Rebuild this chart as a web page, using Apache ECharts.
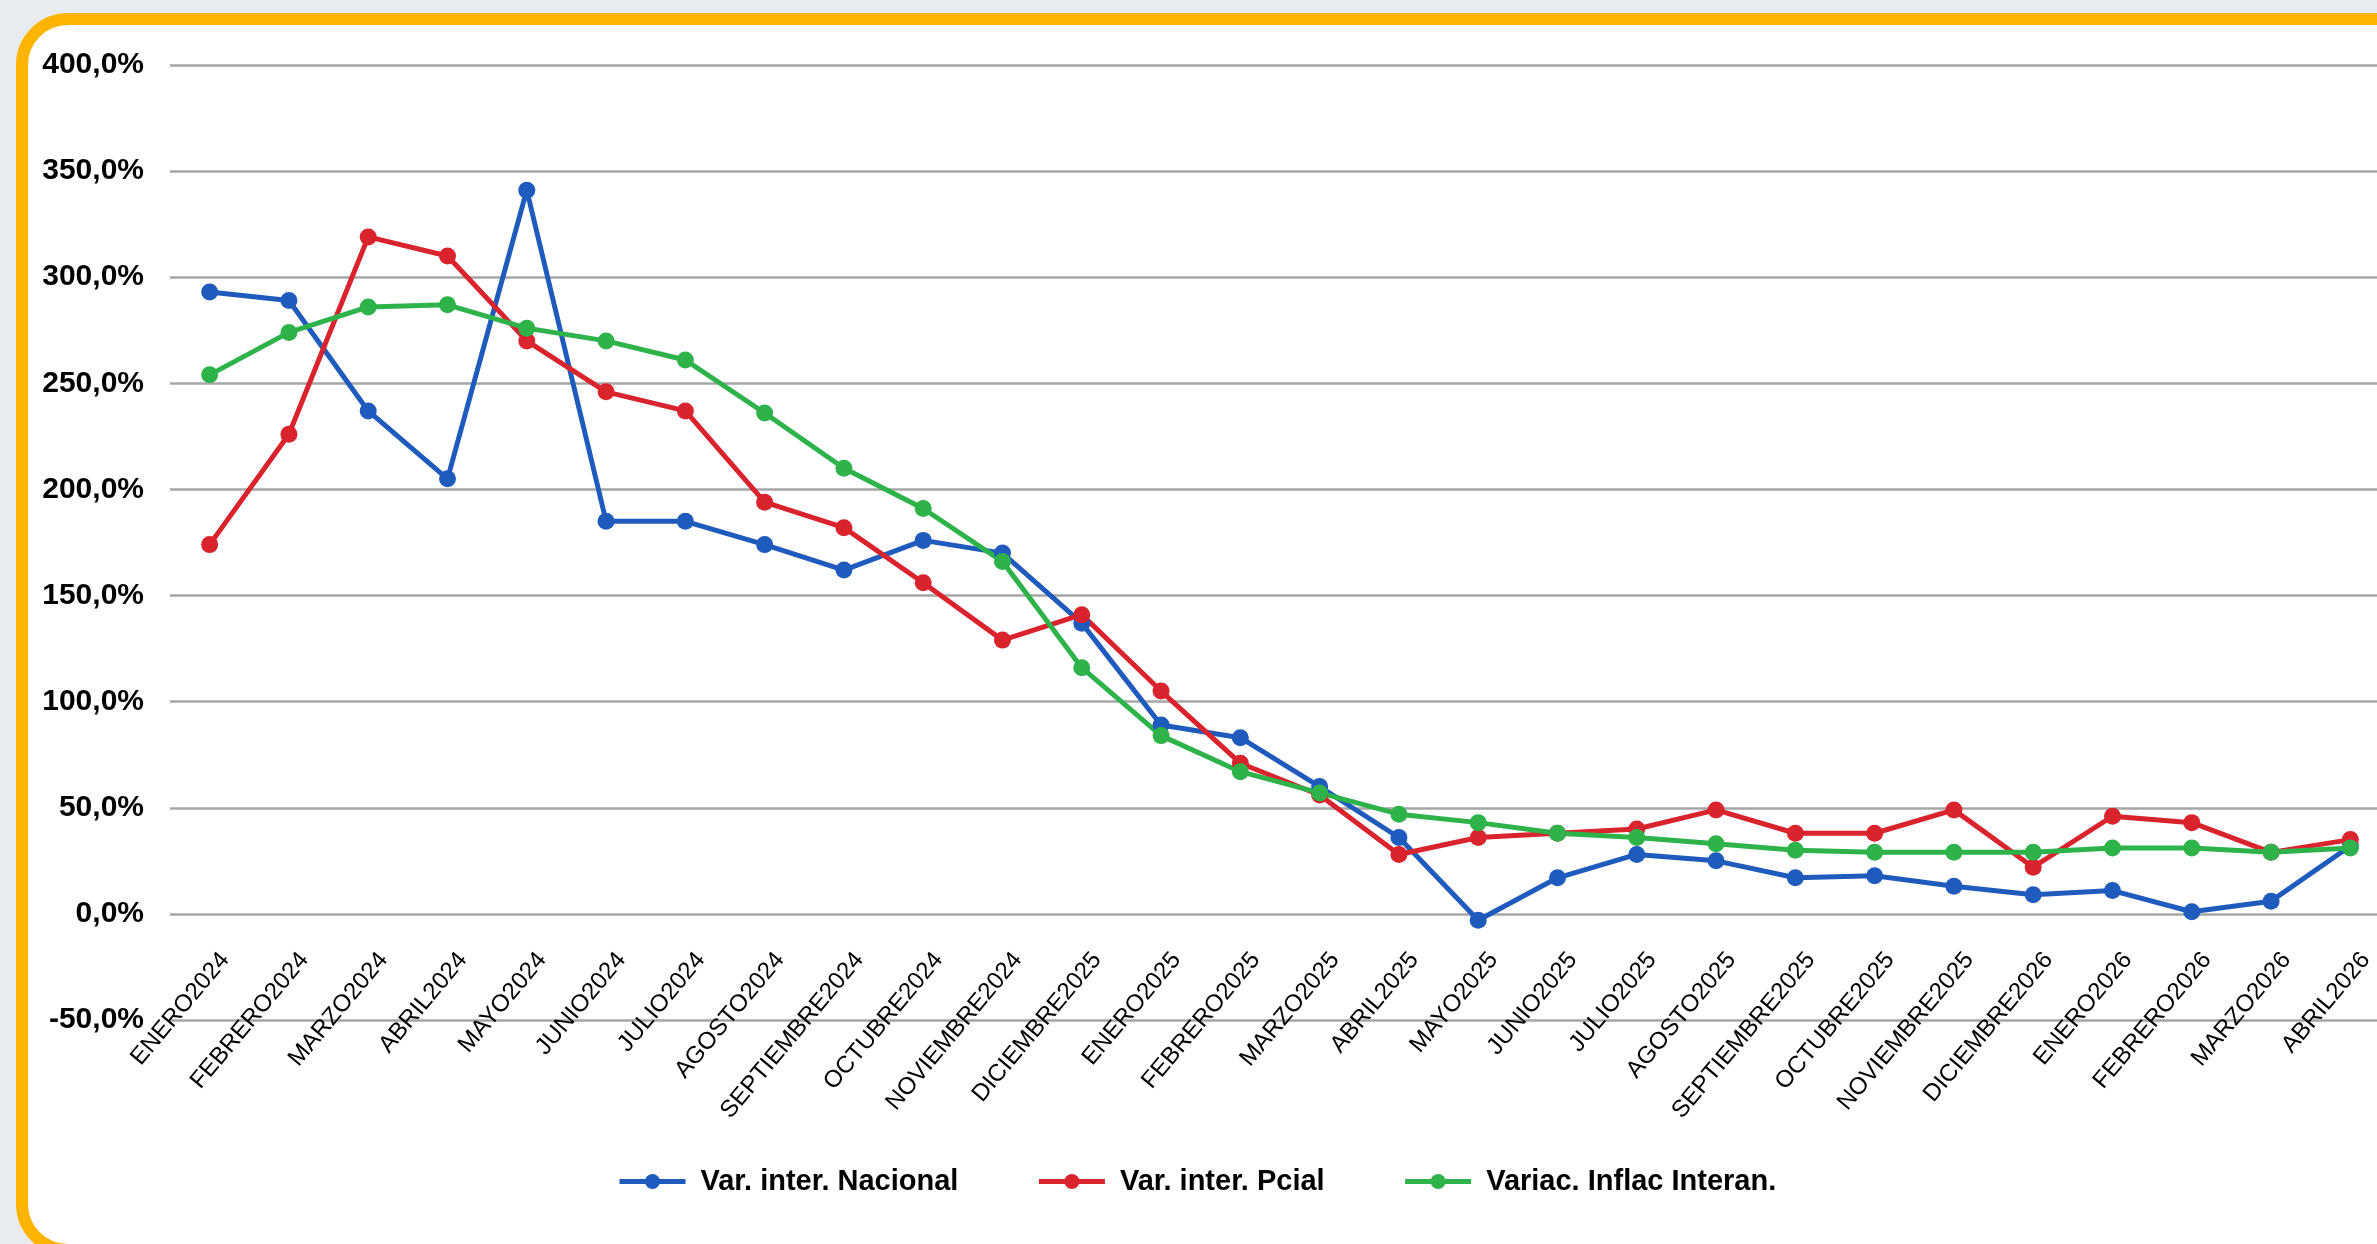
<!DOCTYPE html>
<html>
<head>
<meta charset="utf-8">
<script src="https://cdn.jsdelivr.net/npm/echarts@6/dist/echarts.min.js"></script>
<style>
  html, body { margin: 0; padding: 0; width: 2377px; height: 1244px; overflow: hidden; background: #e8ecef; }
  #card { position: absolute; left: 16px; top: 13px; width: 2420px; height: 1243px; box-sizing: border-box;
          border: 12px solid #FFB400; border-radius: 52px; background: #ffffff; }
  #chart { position: absolute; left: 0; top: 0; width: 2377px; height: 1244px; }
</style>
</head>
<body>
<div id="card"></div>
<div id="chart"></div>
<script>
const categories = ['ENERO2024','FEBRERO2024','MARZO2024','ABRIL2024','MAYO2024','JUNIO2024','JULIO2024','AGOSTO2024','SEPTIEMBRE2024','OCTUBRE2024','NOVIEMBRE2024','DICIEMBRE2025','ENERO2025','FEBRERO2025','MARZO2025','ABRIL2025','MAYO2025','JUNIO2025','JULIO2025','AGOSTO2025','SEPTIEMBRE2025','OCTUBRE2025','NOVIEMBRE2025','DICIEMBRE2026','ENERO2026','FEBRERO2026','MARZO2026','ABRIL2026'];

const nacional = [293, 289, 237, 205, 341, 185, 185, 174, 162, 176, 170, 137, 89, 83, 60, 36, -3, 17, 28, 25, 17, 18, 13, 9, 11, 1, 6, 32];
const pcial = [174, 226, 319, 310, 270, 246, 237, 194, 182, 156, 129, 141, 105, 71, 56, 28, 36, 38, 40, 49, 38, 38, 49, 22, 46, 43, 29, 35];
const variac = [254, 274, 286, 287, 276, 270, 261, 236, 210, 191, 166, 116, 84, 67, 57, 47, 43, 38, 36, 33, 30, 29, 29, 29, 31, 31, 29, 31];

const seriesNames = ['Var. inter. Nacional', 'Var. inter. Pcial', 'Variac. Inflac Interan.'];
const seriesColors = ['#1f5bbd', '#d9232d', '#2eb34b'];

const yMin = -50, yMax = 400, yStep = 50;

const FONT = '"Liberation Sans", Arial, sans-serif';

const gridTop = 65, gridBottom = 224, chartH = 1244;
const gridH = chartH - gridTop - gridBottom;
// place the category axis where the value axis is 0 (as in the reference)
const xAxisOffset = -gridH * (0 - yMin) / (yMax - yMin);

const chart = echarts.init(document.getElementById('chart'), null, { renderer: 'canvas' });

function mkSeries(name, data, color) {
  return {
    name: name,
    type: 'line',
    data: data,
    symbol: 'circle',
    symbolSize: 17,
    lineStyle: { color: color, width: 5 },
    itemStyle: { color: color },
    emphasis: { disabled: true },
    animation: false
  };
}

chart.setOption({
  backgroundColor: 'transparent',
  animation: false,
  grid: { left: 170, top: gridTop, width: 2220, bottom: gridBottom, containLabel: false, outerBoundsMode: 'none' },
  legend: {
    data: seriesNames,
    left: 612,
    top: 1162,
    itemWidth: 66,
    itemHeight: 19,
    itemGap: 78,
    lineStyle: { width: 5 },
    textStyle: { fontFamily: FONT, fontSize: 29, fontWeight: 'bold', color: '#000', padding: [0, 0, 0, 10] }
  },
  xAxis: {
    type: 'category',
    data: categories,
    boundaryGap: true,
    offset: xAxisOffset,
    axisLine: { show: false, onZero: false },
    axisTick: { show: false },
    splitLine: { show: false },
    axisLabel: {
      interval: 0,
      rotate: 50,
      margin: 29,
      verticalAlign: 'top',
      lineHeight: 40,
      fontFamily: FONT,
      fontSize: 24,
      color: '#000'
    }
  },
  yAxis: {
    type: 'value',
    min: yMin,
    max: yMax,
    interval: yStep,
    axisLine: { show: false },
    axisTick: { show: false },
    splitLine: { lineStyle: { color: '#a6a6a6', width: 2.5 } },
    axisLabel: {
      margin: 26,
      fontFamily: FONT,
      fontSize: 30,
      fontWeight: 'bold',
      color: '#000',
      formatter: function (v) { return v.toFixed(1).replace('.', ',') + '%'; }
    }
  },
  series: [
    mkSeries(seriesNames[0], nacional, seriesColors[0]),
    mkSeries(seriesNames[1], pcial, seriesColors[1]),
    mkSeries(seriesNames[2], variac, seriesColors[2])
  ]
});
</script>
</body>
</html>
